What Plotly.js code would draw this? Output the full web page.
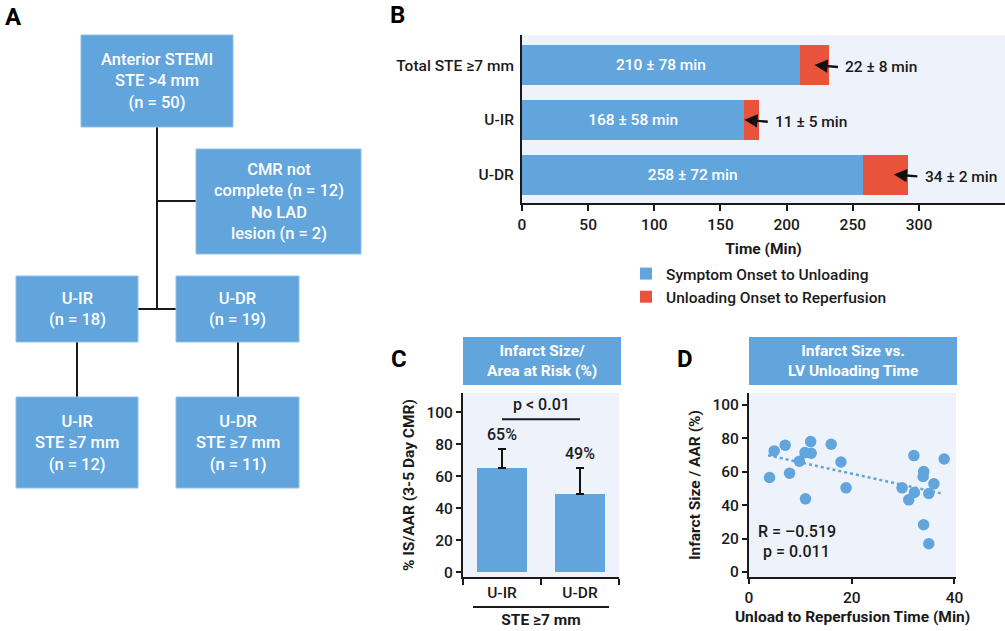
<!DOCTYPE html>
<html>
<head>
<meta charset="utf-8">
<script src="https://cdn.plot.ly/plotly-3.0.1.min.js"></script>
<style>html,body{margin:0;padding:0;background:#fff;}#chart{width:1005px;height:631px;}</style>
</head>
<body>
<div id="chart"></div>
<script>
// ---------- DATA ----------
// Panel A (flowchart labels)
const flowLabels = [
  'Anterior STEMI<br>STE >4 mm<br>(n = 50)',
  'CMR not<br>complete (n = 12)<br>No LAD<br>lesion (n = 2)',
  'U-IR<br>(n = 18)',
  'U-DR<br>(n = 19)',
  'U-IR<br>STE ≥7 mm<br>(n = 12)',
  'U-DR<br>STE ≥7 mm<br>(n = 11)'
];
// Panel B
const timeCategories = ['Total STE ≥7 mm', 'U-IR', 'U-DR'];
const onsetToUnloading = [210, 168, 258];
const unloadingToReperfusion = [22, 11, 34];
const onsetLabels = ['210 ± 78 min', '168 ± 58 min', '258 ± 72 min'];
const reperfusionLabels = ['22 ± 8 min', '11 ± 5 min', '34 ± 2 min'];
const timeTicks = [0, 50, 100, 150, 200, 250, 300];
const seriesNames = ['Symptom Onset to Unloading', 'Unloading Onset to Reperfusion'];
// Panel C
const groups = ['U-IR', 'U-DR'];
const isAar = [65, 49];
const isAarErrUp = [12, 16];
const isAarLabels = ['65%', '49%'];
const pctTicks = [0, 20, 40, 60, 80, 100];
// Panel D
const unloadTime = [4.0, 4.9, 7.05, 7.9, 9.8, 10.9, 12.0, 12.1, 11.0, 16.0, 17.9, 18.9,
                    29.8, 31.1, 32.2, 32.1, 34.0, 33.9, 34.0, 35.0, 35.0, 36.0, 38.0];
const infarctSize = [56.6, 72.5, 75.9, 59.2, 66.3, 71.5, 78.1, 71.1, 43.8, 76.5, 65.9, 50.4,
                     50.4, 43.2, 47.6, 69.7, 60.2, 57.2, 28.3, 16.9, 47.0, 52.8, 67.7];
const trendX = [3.7, 37.3];
const trendY = [69.9, 47.2];
const unloadTicks = [0, 20, 40];

// ---------- STYLE / GEOMETRY ----------
const W = 1005, H = 631;
const px = x => x / W;
const py = y => 1 - y / H;
const BLUE = '#62a5dc', RED = '#e9533b', BG = '#eef3fb', INK = '#1a1a1a';
const FONT = 'Roboto, Arial, sans-serif';
const WT = 500;

const shapes = [];
const annotations = [];
const centered = {xanchor:'center', yanchor:'middle'};

// Panel A flowchart
const flowBoxes = [
  [81, 35, 233, 127], [196, 149, 361, 254],
  [16, 276, 138, 342], [176, 276, 299, 342],
  [16, 397, 138, 488], [176, 397, 299, 488]
];
const flowLines = [
  [157, 127, 157, 309], [157, 201, 196, 201], [138, 309, 176, 309],
  [77, 342, 77, 397], [238, 342, 238, 397]
];
flowLines.forEach(l => shapes.push({type:'line', xref:'paper', yref:'paper',
  x0:px(l[0]), y0:py(l[1]), x1:px(l[2]), y1:py(l[3]), line:{color:INK, width:2}}));
flowBoxes.forEach((b, i) => {
  shapes.push({type:'rect', xref:'paper', yref:'paper', x0:px(b[0]), y0:py(b[3]), x1:px(b[2]), y1:py(b[1]),
    fillcolor:BLUE, line:{color:'#8fc0e8', width:1}});
  annotations.push(Object.assign({xref:'paper', yref:'paper', x:px((b[0]+b[2])/2), y:py((b[1]+b[3])/2),
    text:flowLabels[i], showarrow:false, font:{family:FONT, size:16.5, color:'white', weight:WT}, align:'center'}, centered));
});

// Panel letters
[['A', 13, 17], ['B', 397, 15], ['C', 399, 359], ['D', 685, 359]].forEach(l => annotations.push(Object.assign({
  xref:'paper', yref:'paper', x:px(l[1]), y:py(l[2]), text:'<b>' + l[0] + '</b>', showarrow:false,
  font:{family:FONT, size:24, color:'#000'}
}, centered)));

// Panel B arrows and labels
timeCategories.forEach((c, i) => {
  const end = onsetToUnloading[i] + unloadingToReperfusion[i];
  annotations.push({xref:'x', yref:'y', x:end - 11, y:c, ax:25, ay:2, text:'', showarrow:true,
    arrowhead:2, arrowsize:1.1, arrowwidth:2.4, arrowcolor:'#111'});
  annotations.push({xref:'x', yref:'y', x:end + 7, y:c, xanchor:'left', yanchor:'middle', xshift:5, yshift:-2,
    text:reperfusionLabels[i], showarrow:false, font:{family:FONT, size:15.5, color:INK, weight:WT}});
});

// Panel C / D title boxes
[[463, 621, 'Infarct Size/<br>Area at Risk (%)'], [749, 957, 'Infarct Size vs.<br>LV Unloading Time']].forEach(t => {
  shapes.push({type:'rect', xref:'paper', yref:'paper', x0:px(t[0]), x1:px(t[1]), y0:py(385), y1:py(337),
    fillcolor:BLUE, line:{width:0}});
  annotations.push(Object.assign({xref:'paper', yref:'paper', x:px((t[0]+t[1])/2), y:py(361), text:'<b>' + t[2] + '</b>',
    showarrow:false, font:{family:FONT, size:15.5, color:'white'}, align:'center'}, centered));
});

// Panel C labels
groups.forEach((g, i) => annotations.push(Object.assign({xref:'x2', yref:'y2', x:g, y:isAar[i] + isAarErrUp[i] + 9,
  text:isAarLabels[i], showarrow:false, font:{family:FONT, size:16, color:INK, weight:WT}}, centered)));
annotations.push(Object.assign({xref:'x2', yref:'y2', x:0.5, y:104.5, text:'p &lt; 0.01', showarrow:false,
  font:{family:FONT, size:16, color:INK, weight:WT}}, centered));
shapes.push({type:'line', xref:'x2', yref:'y2', x0:0, x1:1, y0:95.6, y1:95.6, line:{color:INK, width:2}});
shapes.push({type:'line', xref:'paper', yref:'paper', x0:px(473), x1:px(609), y0:py(607), y1:py(607),
  line:{color:INK, width:2}});

// Panel D labels
annotations.push(Object.assign({xref:'x3', yref:'y3', x:9.3, y:24, text:'R = –0.519', showarrow:false,
  font:{family:FONT, size:16, color:INK, weight:WT}}, centered));
annotations.push(Object.assign({xref:'x3', yref:'y3', x:9.3, y:12.5, text:'p = 0.011', showarrow:false,
  font:{family:FONT, size:16, color:INK, weight:WT}}, centered));

// ---------- TRACES ----------
const traces = [
  {type:'bar', orientation:'h', x:onsetToUnloading, y:timeCategories, name:seriesNames[0],
   marker:{color:BLUE}, width:0.73, text:onsetLabels, textposition:'inside', insidetextanchor:'middle',
   textfont:{family:FONT, size:15.5, color:'white', weight:WT}, xaxis:'x', yaxis:'y', hoverinfo:'x+y'},
  {type:'bar', orientation:'h', x:unloadingToReperfusion, y:timeCategories, name:seriesNames[1],
   marker:{color:RED}, width:0.73, textposition:'none', xaxis:'x', yaxis:'y', hoverinfo:'x+y'},
  {type:'bar', x:groups, y:isAar, marker:{color:BLUE}, width:0.645, showlegend:false,
   error_y:{type:'data', symmetric:false, array:isAarErrUp, arrayminus:[0, 0], color:'#111', thickness:2, width:4},
   xaxis:'x2', yaxis:'y2'},
  {type:'scatter', mode:'lines', x:trendX, y:trendY, line:{color:BLUE, width:2.5, dash:'dot'},
   showlegend:false, xaxis:'x3', yaxis:'y3', hoverinfo:'skip'},
  {type:'scatter', mode:'markers', x:unloadTime, y:infarctSize, marker:{color:BLUE, size:11.5},
   showlegend:false, xaxis:'x3', yaxis:'y3'}
];

const axBase = {showline:true, linewidth:2, linecolor:INK, showgrid:false, zeroline:false,
  tickcolor:INK, tickwidth:2, fixedrange:true, tickfont:{family:FONT, size:15.5, color:INK, weight:WT}};
const titleFont = {family:FONT, size:15.5, color:INK, weight:700};

const layout = {
  width:W, height:H, margin:{l:0, r:0, t:0, b:0},
  paper_bgcolor:'white', plot_bgcolor:BG,
  font:{family:FONT, size:15, color:INK, weight:WT},
  barmode:'stack', showlegend:true,
  legend:{x:px(626), y:py(257), xanchor:'left', yanchor:'top', traceorder:'normal',
    bgcolor:'rgba(0,0,0,0)', font:{family:FONT, size:15.5, color:INK, weight:WT}},
  xaxis:Object.assign({}, axBase, {domain:[px(522), 1], anchor:'y', range:[0, 365], tickvals:timeTicks,
    ticks:'outside', ticklen:6, title:{text:'Time (Min)', font:titleFont, standoff:11}}),
  yaxis:Object.assign({}, axBase, {domain:[py(203), py(35)], anchor:'x', type:'category',
    categoryarray:timeCategories, range:[2.52, -0.55], ticks:'', ticklabelstandoff:3}),
  xaxis2:Object.assign({}, axBase, {domain:[px(463), px(619)], anchor:'y2', type:'category',
    categoryarray:groups, range:[-0.5, 1.5], ticks:'outside', ticklen:6, tickson:'boundaries',
    title:{text:'STE ≥7 mm', font:titleFont, standoff:14}}),
  yaxis2:Object.assign({}, axBase, {domain:[py(577), py(393)], anchor:'x2', range:[-3, 112],
    tickvals:pctTicks, ticks:'outside', ticklen:5,
    title:{text:'% IS/AAR (3-5 Day CMR)', font:titleFont, standoff:8}}),
  xaxis3:Object.assign({}, axBase, {domain:[px(749), px(956)], anchor:'y3', range:[0, 40.3],
    tickvals:unloadTicks, ticks:'outside', ticklen:5,
    title:{text:'Unload to Reperfusion Time (Min)', font:titleFont, standoff:6}}),
  yaxis3:Object.assign({}, axBase, {domain:[py(577), py(393)], anchor:'x3', range:[-3, 107.2],
    tickvals:pctTicks, ticks:'outside', ticklen:5,
    title:{text:'Infarct Size / AAR (%)', font:titleFont, standoff:8}}),
  shapes:shapes, annotations:annotations
};

Plotly.newPlot('chart', traces, layout, {displayModeBar:false, staticPlot:true});
</script>
</body>
</html>
